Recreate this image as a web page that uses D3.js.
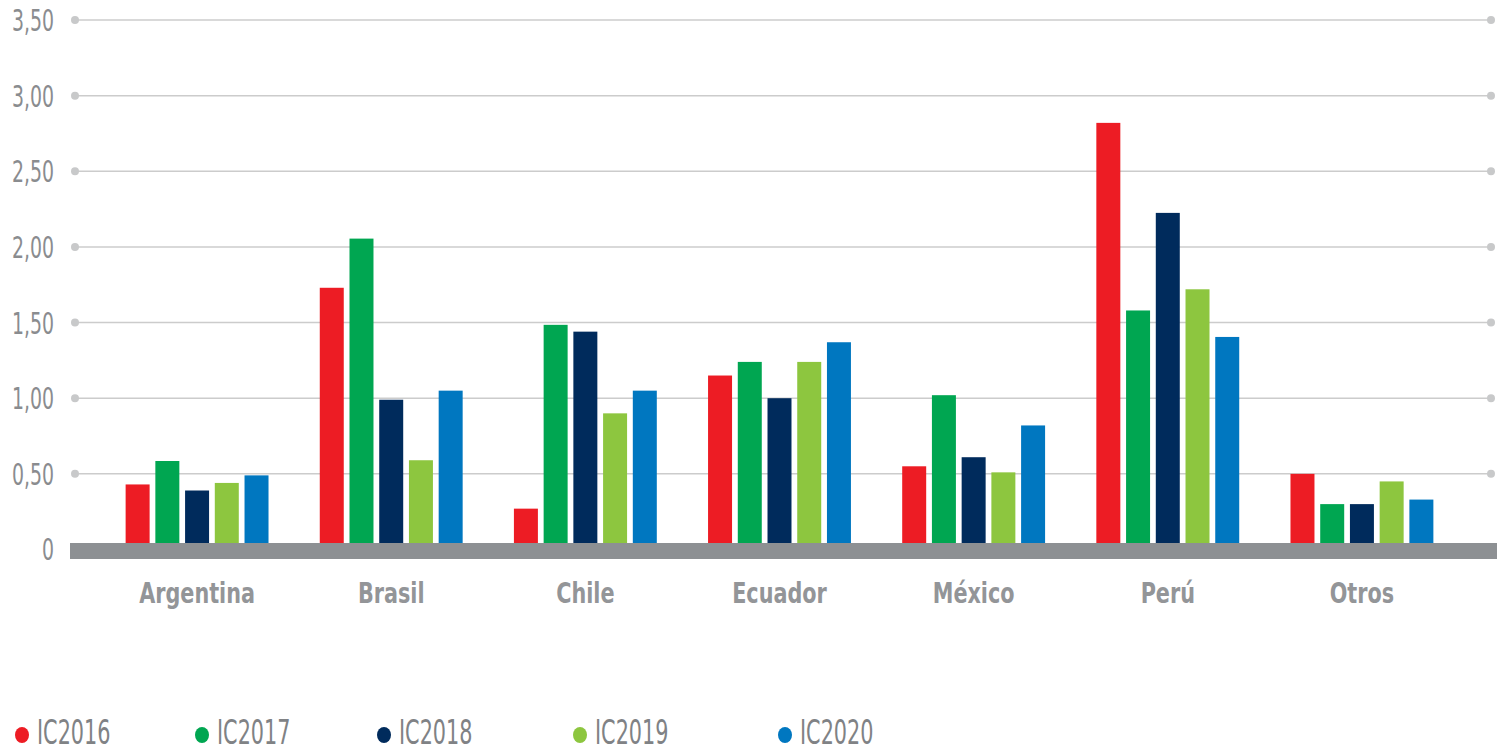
<!DOCTYPE html>
<html lang="es">
<head>
<meta charset="utf-8">
<title>IC por país</title>
<script src="https://d3js.org/d3.v7.min.js"></script>
<style>
  body { margin: 0; background: #fff; }
  svg text { font-family: "DejaVu Sans Condensed", "Liberation Sans Narrow", "Roboto", sans-serif; }
</style>
</head>
<body>
<script>
var w = 1499, h = 752;

var categories = ["Argentina", "Brasil", "Chile", "Ecuador", "México", "Perú", "Otros"];
var series = ["IC2016", "IC2017", "IC2018", "IC2019", "IC2020"];
var colors = ["#ed1c24", "#00a651", "#002b5c", "#8dc63f", "#0077c0"];
var ic2016 = [0.43, 1.73, 0.27, 1.15, 0.55, 2.82, 0.50];
var ic2017 = [0.585, 2.055, 1.485, 1.24, 1.02, 1.58, 0.30];
var ic2018 = [0.39, 0.99, 1.44, 1.00, 0.61, 2.225, 0.30];
var ic2019 = [0.44, 0.59, 0.90, 1.24, 0.51, 1.72, 0.45];
var ic2020 = [0.49, 1.05, 1.05, 1.37, 0.82, 1.405, 0.33];
var yTicks = [0, 0.5, 1, 1.5, 2, 2.5, 3, 3.5];
var legendX = [22, 202, 384, 580, 785];

var values = [ic2016, ic2017, ic2018, ic2019, ic2020];

var svg = d3.select("body").append("svg")
  .attr("width", w)
  .attr("height", h);

var y = d3.scaleLinear().domain([0, 3.5]).range([549.5, 20]);
var x = d3.scaleBand().domain(categories).range([100, 1459]).paddingInner(0.264).paddingOuter(0.132);
var xs = d3.scaleBand().domain(series).range([0, x.bandwidth()]).paddingInner(0.193);

var fmt = function(d) { return d === 0 ? "0" : d3.format(".2f")(d).replace(".", ","); };

// gridlines with round ends
var grid = svg.append("g");
yTicks.filter(function(d) { return d > 0; }).forEach(function(t) {
  grid.append("line")
    .attr("x1", 75).attr("x2", 1491)
    .attr("y1", y(t)).attr("y2", y(t))
    .attr("stroke", "#cccccc").attr("stroke-width", 1.5);
  grid.append("circle").attr("cx", 75).attr("cy", y(t)).attr("r", 4).attr("fill", "#c8c9ca");
  grid.append("circle").attr("cx", 1491).attr("cy", y(t)).attr("r", 4).attr("fill", "#c8c9ca");
});

// y labels (condensed look via horizontal squeeze)
svg.append("g").selectAll("text")
  .data(yTicks)
  .enter().append("text")
  .attr("transform", function(d) {
    var ty = d === 0 ? 560 : y(d) + 11;
    return "translate(54," + ty + ") scale(0.7,1)";
  })
  .attr("text-anchor", "end")
  .attr("font-size", 30)
  .attr("fill", "#8a8c8f")
  .text(fmt);

// bars
var groups = svg.append("g").selectAll("g")
  .data(categories)
  .enter().append("g")
  .attr("transform", function(d) { return "translate(" + x(d) + ",0)"; });

groups.selectAll("rect")
  .data(function(c, i) { return series.map(function(s, j) { return { s: s, v: values[j][i], j: j }; }); })
  .enter().append("rect")
  .attr("x", function(d) { return xs(d.s); })
  .attr("width", xs.bandwidth())
  .attr("y", function(d) { return y(d.v); })
  .attr("height", function(d) { return y(0) - y(d.v); })
  .attr("fill", function(d) { return colors[d.j]; });

// baseline band
svg.append("rect")
  .attr("x", 70).attr("width", 1427)
  .attr("y", 543).attr("height", 16)
  .attr("fill", "#8d9093");

// category labels
svg.append("g").selectAll("text")
  .data(categories)
  .enter().append("text")
  .attr("transform", function(d) { return "translate(" + (x(d) + x.bandwidth() / 2) + ",603) scale(0.84,1)"; })
  .attr("text-anchor", "middle")
  .attr("font-size", 27.5)
  .attr("font-weight", "bold")
  .attr("fill", "#939598")
  .text(function(d) { return d; });

// legend
var legend = svg.append("g").selectAll("g")
  .data(series)
  .enter().append("g")
  .attr("transform", function(d, i) { return "translate(" + legendX[i] + ",735)"; });
legend.append("ellipse").attr("rx", 7).attr("ry", 8).attr("fill", function(d, i) { return colors[i]; });
legend.append("text")
  .attr("transform", "translate(15,9) scale(0.7,1)")
  .attr("font-size", 33)
  .attr("fill", "#808285")
  .text(function(d) { return d; });
</script>
</body>
</html>
